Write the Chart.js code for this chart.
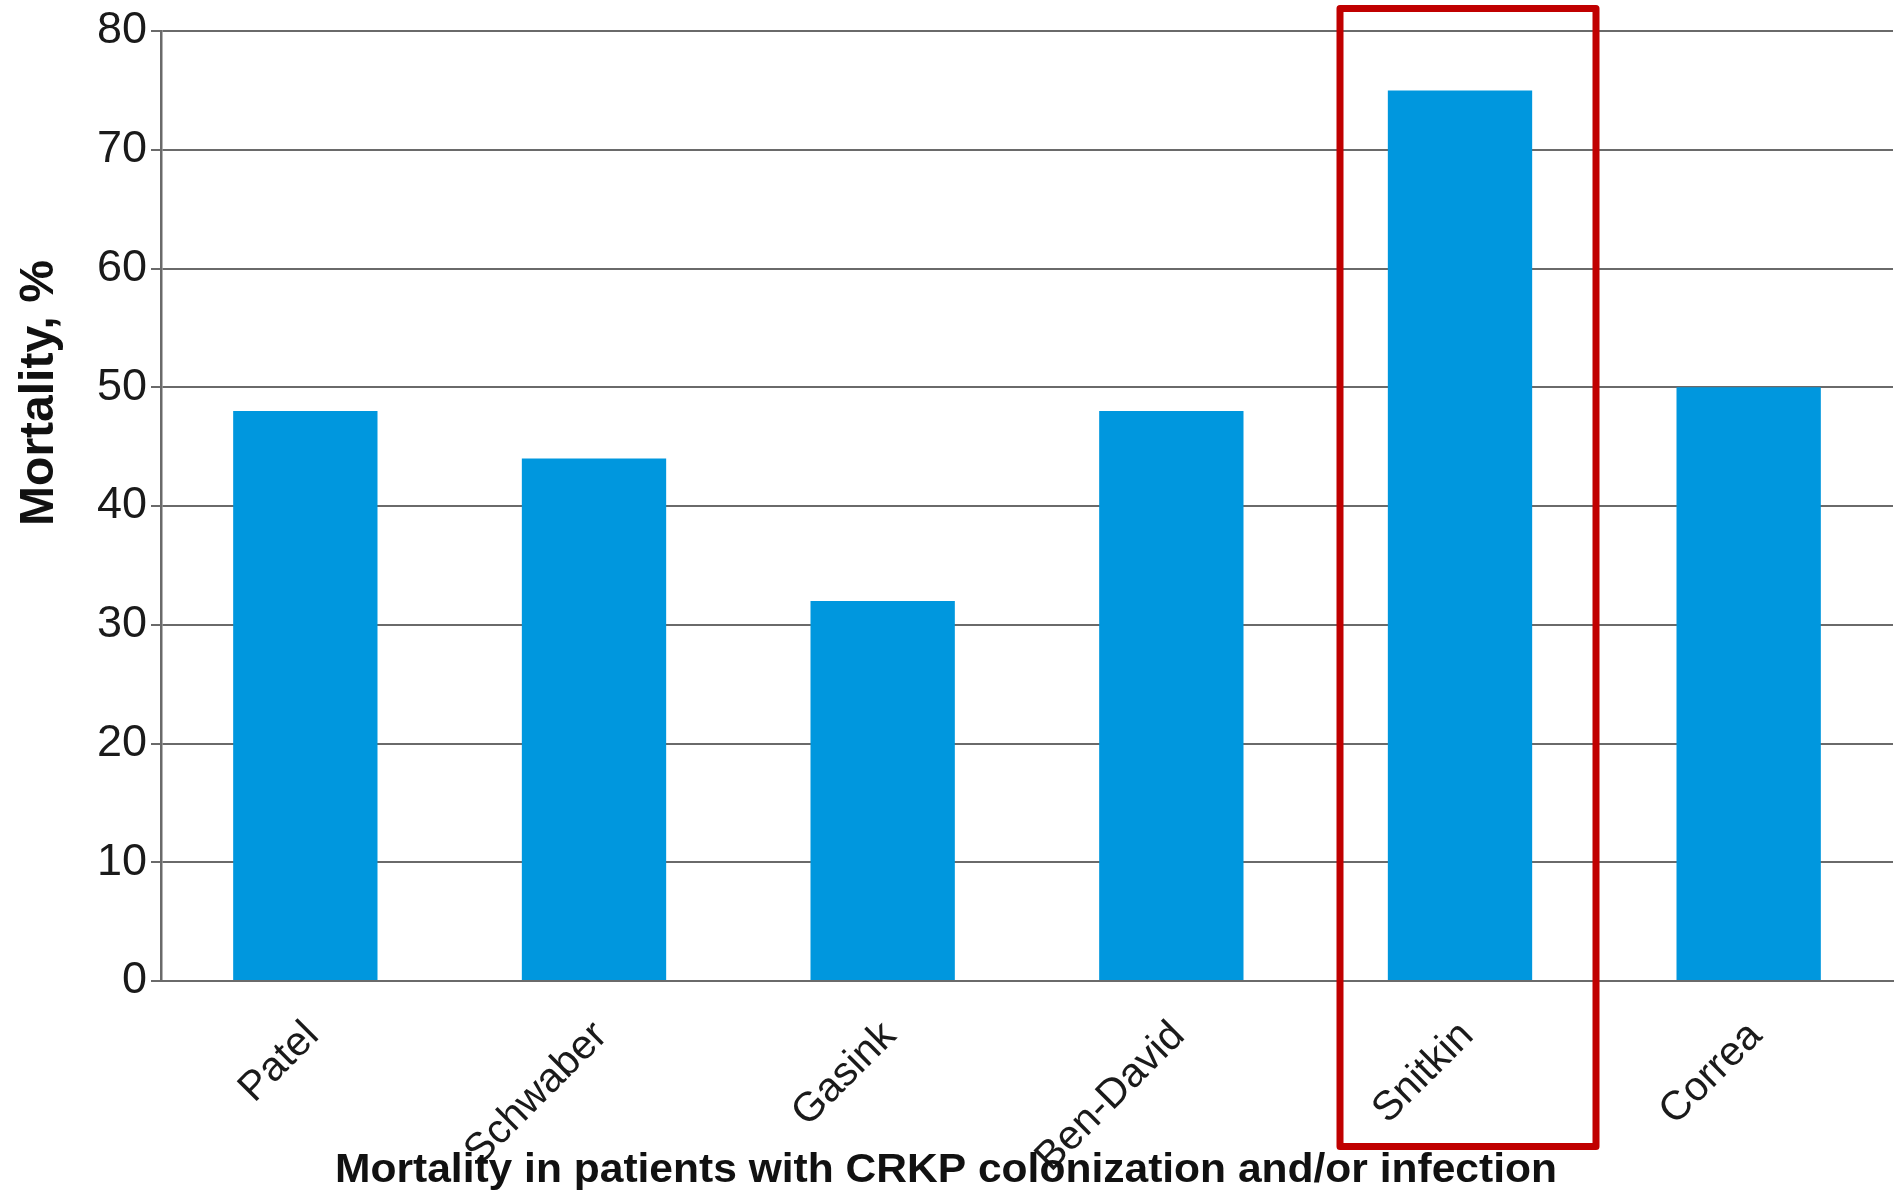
<!DOCTYPE html>
<html>
<head>
<meta charset="utf-8">
<title>Mortality in patients with CRKP colonization and/or infection</title>
<script src="https://cdn.jsdelivr.net/npm/chart.js@4/dist/chart.umd.min.js"></script>
<style>
  html, body { margin: 0; padding: 0; background: #ffffff; }
  #wrap { width: 1895px; height: 1192px; position: relative; }
</style>
</head>
<body>
<div id="wrap"><canvas id="chart" width="1895" height="1192"></canvas></div>
<script>
// Studies reporting mortality among patients with CRKP
const studies = ['Patel', 'Schwaber', 'Gasink', 'Ben-David', 'Snitkin', 'Correa'];
const mortalityPct = [48, 44, 32, 48, 75, 50];
const yTicks = [0, 10, 20, 30, 40, 50, 60, 70, 80];
const highlightedStudy = 'Snitkin';

const yTitle = 'Mortality, %';
const xTitle = 'Mortality in patients with CRKP colonization and/or infection';

const FONT = '"Liberation Sans", Arial, Helvetica, sans-serif';
const BAR_BLUE = '#0097DE';
const GRID_GREY = '#6a6a6a';
const HIGHLIGHT_RED = '#C00000';

// Axis titles and highlight frame, drawn on top of the chart
const overlayPlugin = {
  id: 'overlay',
  afterDraw(chart) {
    const ctx = chart.ctx;
    const x = chart.scales.x;

    // frame around the highlighted study
    const idx = studies.indexOf(highlightedStudy);
    const cx = x.getPixelForValue(idx) + 8;
    ctx.save();
    ctx.strokeStyle = HIGHLIGHT_RED;
    ctx.lineWidth = 7;
    ctx.lineJoin = 'round';
    ctx.strokeRect(cx - 128, 8.5, 256, 1138);
    ctx.restore();

    // vertical axis title
    ctx.save();
    ctx.fillStyle = '#111';
    ctx.font = 'bold 48px ' + FONT;
    ctx.textAlign = 'center';
    ctx.textBaseline = 'middle';
    ctx.translate(40, 393);
    ctx.rotate(-Math.PI / 2);
    ctx.fillText(yTitle, 0, 0);
    ctx.restore();

    // horizontal axis title, set in a condensed width
    ctx.save();
    ctx.fillStyle = '#111';
    ctx.font = 'bold 41px ' + FONT;
    ctx.textAlign = 'left';
    ctx.textBaseline = 'alphabetic';
    const w = ctx.measureText(xTitle).width;
    ctx.translate(335, 1182);
    ctx.scale(1222 / w, 1);
    ctx.fillText(xTitle, 0, 0);
    ctx.restore();
  }
};

Chart.defaults.font.family = FONT;
Chart.defaults.color = '#222';

new Chart(document.getElementById('chart'), {
  type: 'bar',
  data: {
    labels: studies,
    datasets: [{
      data: mortalityPct,
      backgroundColor: BAR_BLUE,
      borderWidth: 0,
      categoryPercentage: 1.0,
      barPercentage: 0.5
    }]
  },
  options: {
    responsive: false,
    animation: false,
    events: [],
    layout: { padding: { top: 29, right: 2, left: 0, bottom: 0 } },
    plugins: {
      legend: { display: false },
      tooltip: { enabled: false },
      title: { display: false }
    },
    scales: {
      x: {
        grid: { display: false, drawTicks: false },
        border: { display: true, color: GRID_GREY, width: 2 },
        ticks: {
          autoSkip: false,
          minRotation: 45,
          maxRotation: 45,
          padding: 31,
          labelOffset: 7,
          color: '#1a1a1a',
          font: { size: 41 }
        },
        afterFit(scale) { scale.height = 211; }
      },
      y: {
        min: 0,
        max: 80,
        afterBuildTicks(scale) { scale.ticks = yTicks.map(v => ({ value: v })); },
        grid: { color: GRID_GREY, lineWidth: 2, tickLength: 10, drawTicks: true },
        border: { display: true, color: GRID_GREY, width: 2.5 },
        ticks: {
          padding: 4,
          color: '#1a1a1a',
          font: { size: 45 }
        },
        afterFit(scale) { scale.width = 161; }
      }
    }
  },
  plugins: [overlayPlugin]
});
</script>
</body>
</html>
